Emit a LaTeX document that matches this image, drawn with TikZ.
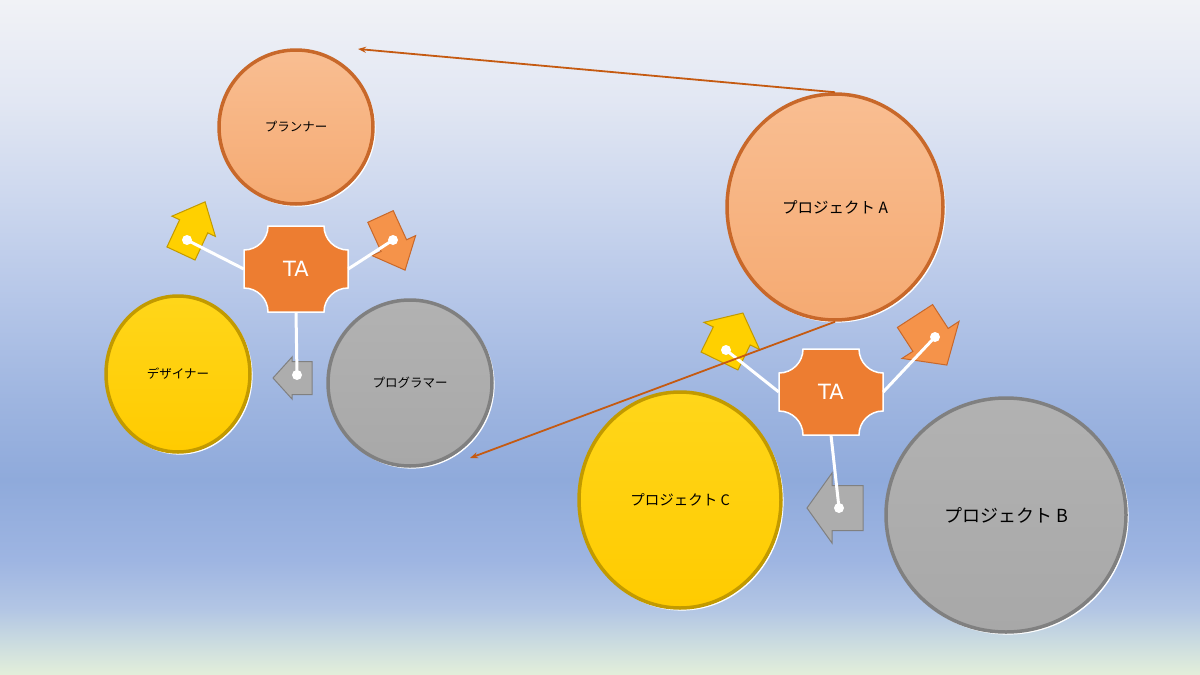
\documentclass[tikz,border=0pt]{standalone}
\usepackage{fontspec}
\newfontfamily\jp{Noto Sans CJK JP}
\newfontfamily\tafont{DejaVu Sans}
\usetikzlibrary{shapes.geometric,arrows.meta}
\definecolor{c0}{HTML}{F1F2F6}
\definecolor{c100}{HTML}{E2E7F3}
\definecolor{c200}{HTML}{CCD7EE}
\definecolor{c300}{HTML}{B5C6E8}
\definecolor{c400}{HTML}{9EB5E0}
\definecolor{c480}{HTML}{8FAADB}
\definecolor{c560}{HTML}{9EB5E2}
\definecolor{c610}{HTML}{B3C6E4}
\definecolor{c640}{HTML}{C9DAE0}
\definecolor{c675}{HTML}{E3EFDA}
\definecolor{orTop}{HTML}{F9BE92}
\definecolor{orBot}{HTML}{F5AA72}
\definecolor{orRim}{HTML}{C8682A}
\definecolor{yeTop}{HTML}{FFD61A}
\definecolor{yeBot}{HTML}{FFCB00}
\definecolor{yeRim}{HTML}{C29A00}
\definecolor{grTop}{HTML}{B2B2B2}
\definecolor{grBot}{HTML}{A8A8A8}
\definecolor{grRim}{HTML}{808080}
\definecolor{arYe}{HTML}{FFD000}
\definecolor{arOr}{HTML}{F5934A}
\definecolor{arGr}{HTML}{ADADAD}
\definecolor{taFill}{HTML}{ED7D31}
\definecolor{brownline}{HTML}{C55A11}
\pgfdeclareverticalshading{bgsh}{100bp}{color(0bp)=(c675); color(25bp)=(c675); color(27.59bp)=(c640); color(29.81bp)=(c610); color(33.52bp)=(c560); color(39.44bp)=(c480); color(45.37bp)=(c400); color(52.78bp)=(c300); color(60.19bp)=(c200); color(67.59bp)=(c100); color(75bp)=(c0); color(100bp)=(c0)}
% block arrow: #1 style, #2 tail centre, #3 angle, #4 length, #5 head length, #6 head half width, #7 shaft half width
\newcommand\blockarrow[7]{%
  \path[#1, shift={#2}, rotate=#3] (0,-#7) -- ({#4-#5},-#7) -- ({#4-#5},-#6) -- (#4,0) -- ({#4-#5},#6) -- ({#4-#5},#7) -- (0,#7) -- cycle;}
\newcommand\plaqueat[1]{%
  \path[plaquestyle, shift={(#1)}] (-28,-43) -- (28,-43)
    .. controls (28,-29.75) and (38.75,-19) .. (52,-19) -- (52,19)
    .. controls (38.75,19) and (28,29.75) .. (28,43) -- (-28,43)
    .. controls (-28,29.75) and (-38.75,19) .. (-52,19) -- (-52,-19)
    .. controls (-38.75,-19) and (-28,-29.75) .. (-28,-43) -- cycle;}
\tikzset{
  disc/.style={ellipse, inner sep=0pt, text=black, font=\jp\fontsize{12.5}{14}\selectfont, line width=3.5pt,
    preaction={draw=white, line width=1.6pt, transform canvas={shift={(1.8pt,-1.8pt)}}}},
  odisc/.style={disc, top color=orTop, bottom color=orBot, draw=orRim},
  ydisc/.style={disc, top color=yeTop, bottom color=yeBot, draw=yeRim},
  gdisc/.style={disc, top color=grTop, bottom color=grBot, draw=grRim},
  yarrow/.style={fill=arYe, draw=yeRim, line width=1pt, line join=miter},
  oarrow/.style={fill=arOr, draw=orRim, line width=1pt, line join=miter},
  garrow/.style={fill=arGr, draw=grRim, line width=1pt, line join=miter},
  plaquestyle/.style={fill=taFill, draw=white, line width=1.5pt},
  tanode/.style={rectangle, minimum width=104pt, minimum height=86pt, inner sep=0pt, text=white, font=\tafont\fontsize{21}{24}\selectfont},
  wline/.style={draw=white, line width=3pt},
  wdot/.style={fill=white},
  brownarrow/.style={draw=brownline, line width=1.8pt, -{Stealth[length=8pt,width=6pt]}}
}
\begin{document}
\begin{tikzpicture}[x=1pt, y=-1pt]
\useasboundingbox (0,0) rectangle (1200,675);
\shade[shading=bgsh] (0,0) rectangle (1200,675);

% discs
\node[odisc, minimum width=154pt, minimum height=154pt] (pl) at (296,127) {プランナー};
\node[ydisc, minimum width=144pt, minimum height=156pt] (de) at (178,374) {デザイナー};
\node[gdisc, minimum width=164pt, minimum height=166pt] (pg) at (410,383) {プログラマー};
\node[odisc, minimum width=216pt, minimum height=226pt, font=\jp\fontsize{15.5}{18}\selectfont] (pa) at (835,207) {プロジェクト A};
\node[ydisc, minimum width=202pt, minimum height=216pt, font=\jp\fontsize{14.5}{17}\selectfont] (pc) at (680,500) {プロジェクト C};
\node[gdisc, minimum width=240pt, minimum height=234pt, font=\jp\fontsize{18}{20}\selectfont] (pb) at (1006,515) {プロジェクト B};

% block arrows
\blockarrow{yarrow}{(181,253.5)}{65}{57}{27}{24}{15.5}
\blockarrow{oarrow}{(380.5,216.5)}{-65.4}{59}{27}{24}{14}
\blockarrow{garrow}{(312,378)}{180}{39}{19}{21}{16.5}
\blockarrow{yarrow}{(719.5,361)}{64}{53.4}{25.5}{31}{20.5}
\blockarrow{oarrow}{(915,316)}{-57}{58.5}{30}{34}{21}
\blockarrow{garrow}{(863,508)}{180}{56}{25}{35}{22.5}

% TA plaques
\plaqueat{296,269}
\node[tanode] (ta1) at (296,269) {TA};
\plaqueat{831,392}
\node[tanode] (ta2) at (831,392) {TA};

% dots
\coordinate (d1) at (187,240);
\coordinate (d2) at (393,240);
\coordinate (d3) at (297,375);
\coordinate (d4) at (726,350);
\coordinate (d5) at (935,337);
\coordinate (d6) at (839,508);

\draw[wline] (ta1.west) -- (d1);
\draw[wline] (ta1.east) -- (d2);
\draw[wline] (ta1.south) -- (d3);
\draw[wline] (ta2.west) -- (d4);
\draw[wline] (ta2.east) -- (d5);
\draw[wline] (ta2.south) -- (d6);
\foreach \d in {d1,d2,d3,d4,d5,d6} \fill[wdot] (\d) circle (5);

% brown connectors
\coordinate (e1) at (358,49);
\coordinate (e2) at (470,458);
\draw[brownarrow] (pa.north) -- (e1);
\draw[brownarrow] (pa.south) -- (e2);
\end{tikzpicture}
\end{document}
